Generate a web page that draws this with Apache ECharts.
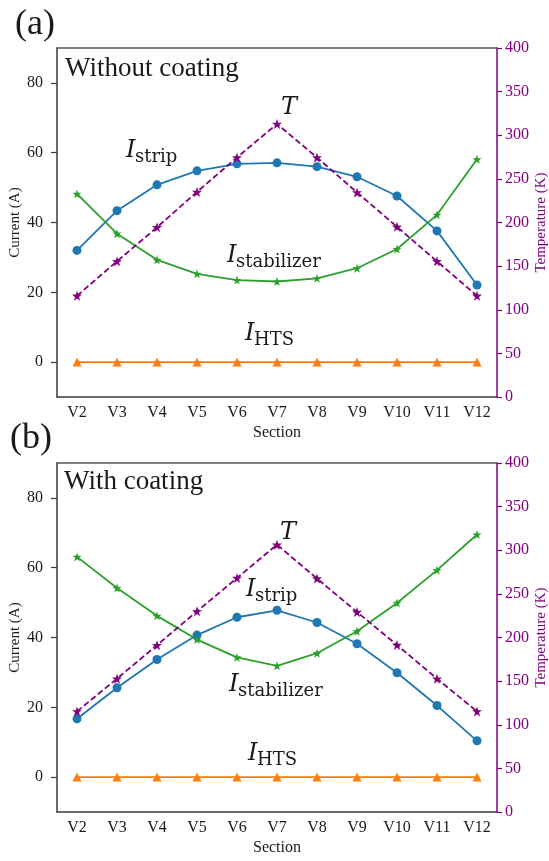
<!DOCTYPE html>
<html>
<head>
<meta charset="utf-8">
<script src="https://cdn.jsdelivr.net/npm/echarts@6/dist/echarts.min.js"></script>
<style>html,body{margin:0;padding:0;background:#fff;}#c{width:549px;height:861px;}</style>
</head>
<body>
<div id="c"></div>
<script>
const categories = ['V2','V3','V4','V5','V6','V7','V8','V9','V10','V11','V12'];
const currentTicks = [0, 20, 40, 60, 80];
// Panel (a): without coating
const stripA = [32.0, 43.4, 50.8, 54.8, 56.8, 57.1, 56.0, 53.1, 47.6, 37.6, 22.1];
const stabA  = [48.2, 36.8, 29.3, 25.3, 23.5, 23.1, 24.0, 26.9, 32.4, 42.2, 58.1];
const htsA   = [0, 0, 0, 0, 0, 0, 0, 0, 0, 0, 0];
const tempA  = [116, 155.5, 194.5, 235, 274.5, 313, 274.5, 234.5, 195, 155.5, 116];
// Panel (b): with coating
const stripB = [16.7, 25.6, 33.7, 40.7, 45.8, 47.8, 44.3, 38.2, 29.9, 20.5, 10.4];
const stabB  = [63.1, 54.2, 46.2, 39.4, 34.3, 31.9, 35.5, 41.8, 49.9, 59.3, 69.5];
const htsB   = [0, 0, 0, 0, 0, 0, 0, 0, 0, 0, 0];
const tempB  = [115.3, 152.8, 191.2, 230, 268.2, 306.4, 267.6, 229.2, 191.4, 152.8, 115.3];

const BLUE = '#1f77b4', ORANGE = '#ff7f0e', GREEN = '#2ca02c', PURPLE = '#800080';
const FRAME = '#3a3a3a', TXT = '#1a1a1a';
const SERIF = '"Liberation Serif", "Times New Roman", serif';

function starPath() {
  const pts = [];
  for (let k = 0; k < 10; k++) {
    const r = (k % 2) ? 0.4 : 1;
    const a = -Math.PI / 2 + k * Math.PI / 5;
    pts.push((r * Math.cos(a)).toFixed(4) + ' ' + (r * Math.sin(a)).toFixed(4));
  }
  return 'path://M' + pts.join(' L') + ' Z';
}
const STAR = starPath();

const grids = [
  {left: 57, top: 48, width: 440, height: 349, outerBoundsMode: 'none', containLabel: false},
  {left: 57, top: 463, width: 440, height: 349, outerBoundsMode: 'none', containLabel: false}
];

function xAxes(gi) {
  return [
    {type: 'category', gridIndex: gi, data: categories, boundaryGap: true, position: 'bottom',
     name: 'Section', nameLocation: 'middle', nameGap: 28, nameMoveOverlap: false,
     nameTextStyle: {fontFamily: SERIF, fontSize: 16, color: TXT},
     axisLine: {onZero: false, lineStyle: {color: FRAME, width: 1.5}},
     axisTick: {alignWithLabel: true, length: 5, lineStyle: {color: FRAME, width: 1.2}},
     axisLabel: {fontFamily: SERIF, fontSize: 16, color: TXT, margin: 8, interval: 0},
     splitLine: {show: false}},
    {type: 'category', gridIndex: gi, data: categories, boundaryGap: true, position: 'top',
     axisLine: {onZero: false, lineStyle: {color: '#555', width: 1.5}},
     axisTick: {show: false}, axisLabel: {show: false}, splitLine: {show: false}}
  ];
}
function yAxes(gi) {
  return [
    {type: 'value', gridIndex: gi, min: -10, max: 90, position: 'left',
     name: 'Current (A)', nameLocation: 'middle', nameGap: 34, nameRotate: 90, nameMoveOverlap: false,
     nameTextStyle: {fontFamily: SERIF, fontSize: 15, color: TXT},
     axisLine: {show: true, onZero: false, lineStyle: {color: FRAME, width: 1.5}},
     axisTick: {show: true, length: 6, customValues: currentTicks, lineStyle: {color: FRAME, width: 1.2}},
     axisLabel: {fontFamily: SERIF, fontSize: 16, color: TXT, margin: 14, customValues: currentTicks},
     splitLine: {show: false}},
    {type: 'value', gridIndex: gi, min: 0, max: 400, interval: 50, position: 'right',
     name: 'Temperature (K)', nameLocation: 'middle', nameGap: 37, nameRotate: 90, nameMoveOverlap: false,
     nameTextStyle: {fontFamily: SERIF, fontSize: 15, color: PURPLE},
     axisLine: {show: true, onZero: false, lineStyle: {color: PURPLE, width: 1.5}},
     axisTick: {show: true, length: 5, lineStyle: {color: PURPLE, width: 1.2}},
     axisLabel: {fontFamily: SERIF, fontSize: 16, color: PURPLE, margin: 8},
     splitLine: {show: false}}
  ];
}

function panelSeries(gi, strip, stab, hts, temp) {
  const xi = gi * 2, yi = gi * 2;
  return [
    {type: 'line', xAxisIndex: xi, yAxisIndex: yi, data: strip, symbol: 'circle', symbolSize: 9,
     showAllSymbol: true, lineStyle: {color: BLUE, width: 1.8}, itemStyle: {color: BLUE}, z: 3},
    {type: 'line', xAxisIndex: xi, yAxisIndex: yi, data: hts, symbol: 'triangle', symbolSize: 9,
     showAllSymbol: true, lineStyle: {color: ORANGE, width: 1.8}, itemStyle: {color: ORANGE}, z: 3},
    {type: 'line', xAxisIndex: xi, yAxisIndex: yi, data: stab, symbol: STAR, symbolSize: 9,
     showAllSymbol: true, lineStyle: {color: GREEN, width: 1.8}, itemStyle: {color: GREEN}, z: 3},
    {type: 'line', xAxisIndex: xi, yAxisIndex: yi + 1, data: temp, symbol: STAR, symbolSize: 10,
     showAllSymbol: true, lineStyle: {color: PURPLE, width: 1.8, type: [6, 3]}, itemStyle: {color: PURPLE}, z: 4}
  ];
}

// annotation anchors: left x and baseline y (pixels) of the italic main letter
const annotations = [
  {main: 'I', sub: 'strip', x: 126, y: 158},
  {main: 'T', sub: '', x: 281, y: 115},
  {main: 'I', sub: 'stabilizer', x: 227, y: 263},
  {main: 'I', sub: 'HTS', x: 245, y: 341},
  {main: 'T', sub: '', x: 280, y: 540},
  {main: 'I', sub: 'strip', x: 246, y: 597},
  {main: 'I', sub: 'stabilizer', x: 229, y: 692},
  {main: 'I', sub: 'HTS', x: 248, y: 761}
];
const graphics = [];
annotations.forEach(a => {
  graphics.push({type: 'text', z: 10, style: {text: a.main, x: a.x, y: a.y - 7.1,
    font: 'italic 24px "DejaVu Serif"', fill: TXT, align: 'left', verticalAlign: 'middle'}});
  if (a.sub) graphics.push({type: 'text', z: 10, style: {text: a.sub, x: a.x + 9, y: a.y + 5 - 5.3,
    font: '18px "DejaVu Serif"', fill: TXT, align: 'left', verticalAlign: 'middle'}});
});
const titles = [
  {text: '(a)', x: 15, y: 36, size: 36},
  {text: '(b)', x: 10, y: 450, size: 36},
  {text: 'Without coating', x: 65, y: 77, size: 27},
  {text: 'With coating', x: 64, y: 490, size: 27}
];
titles.forEach(t => {
  graphics.push({type: 'text', z: 10, style: {text: t.text, x: t.x, y: t.y - 0.305 * t.size,
    font: t.size + 'px "Liberation Serif"', fill: TXT, align: 'left', verticalAlign: 'middle'}});
});

const chart = echarts.init(document.getElementById('c'), null, {renderer: 'canvas'});
chart.setOption({
  animation: false,
  backgroundColor: '#fff',
  grid: grids,
  xAxis: [...xAxes(0), ...xAxes(1)],
  yAxis: [...yAxes(0), ...yAxes(1)],
  series: [...panelSeries(0, stripA, stabA, htsA, tempA), ...panelSeries(1, stripB, stabB, htsB, tempB)],
  graphic: graphics
});
</script>
</body>
</html>
